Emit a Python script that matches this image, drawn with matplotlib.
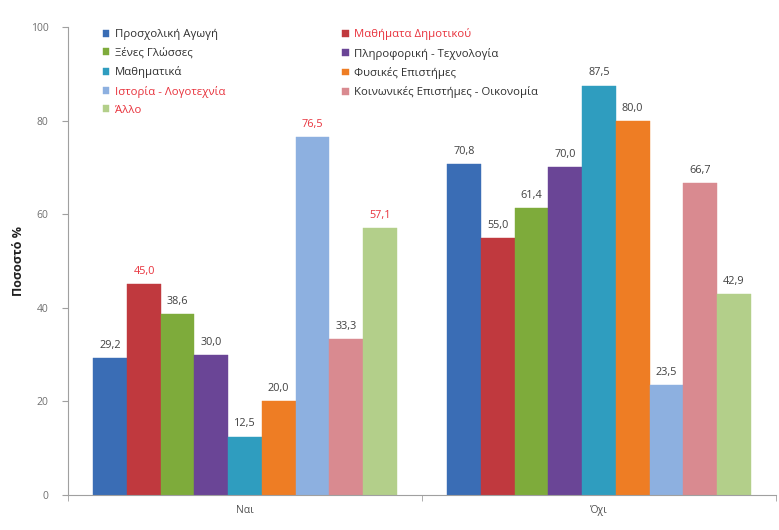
import matplotlib
matplotlib.use("Agg")
import matplotlib.pyplot as plt
import numpy as np

plt.rcParams['font.family'] = ['Open Sans', 'DejaVu Sans']

groups = ["Ναι", "Όχι"]
series = [
    "Προσχολική Αγωγή",
    "Μαθήματα Δημοτικού",
    "Ξένες Γλώσσες",
    "Πληροφορική - Τεχνολογία",
    "Μαθηματικά",
    "Φυσικές Επιστήμες",
    "Ιστορία - Λογοτεχνία",
    "Κοινωνικές Επιστήμες - Οικονομία",
    "Άλλο",
]
values_yes = [29.2, 45.0, 38.6, 30.0, 12.5, 20.0, 76.5, 33.3, 57.1]
values_no = [70.8, 55.0, 61.4, 70.0, 87.5, 80.0, 23.5, 66.7, 42.9]
yticks = [0, 20, 40, 60, 80, 100]

colors = ["#3A6DB5", "#C0393E", "#7EAB3B", "#6A4596", "#2F9DBF",
          "#EE7D24", "#8DB0E0", "#D98A90", "#B3CF8A"]
# series whose legend entry (and "Ναι" label) is written in red
red_series = {1, 6, 8}
red = "#E8323C"
grey_text = "#404040"

fig = plt.figure(figsize=(7.79, 5.30), dpi=100)
ax = fig.add_axes([68 / 779, 35 / 530, 708 / 779, 468 / 530])

n = len(series)
group_w = 0.856
bw = group_w / n
x = np.arange(len(groups))
handles = []
for i in range(n):
    vals = [values_yes[i], values_no[i]]
    pos = x - group_w / 2 + bw * (i + 0.5)
    bars = ax.bar(pos, vals, width=bw, color=colors[i], edgecolor=colors[i],
                  linewidth=0.3, label=series[i])
    handles.append(bars)
    for g, (p, v) in enumerate(zip(pos, vals)):
        c = red if (g == 0 and i in red_series) else grey_text
        ax.text(p, v + 1.5, f"{v:.1f}".replace(".", ","), ha="center",
                va="bottom", fontsize=7.8, color=c)

ax.set_xlim(-0.5, 1.5)
ax.set_ylim(0, 100)
ax.set_yticks(yticks)
ax.set_yticklabels([str(t) for t in yticks], fontsize=7.5, color="#707070")
ax.set_xticks(x)
ax.set_xticklabels(groups, fontsize=7.5, color="#505050")
ax.set_xticks([-0.5, 0.5, 1.5], minor=True)
ax.tick_params(axis="x", which="major", length=0, pad=7)
ax.tick_params(axis="x", which="minor", length=4, color="#A0A0A0", direction="out")
ax.tick_params(axis="y", length=4, color="#A0A0A0", direction="out", pad=10)
for s in ["top", "right"]:
    ax.spines[s].set_visible(False)
for s in ["left", "bottom"]:
    ax.spines[s].set_color("#A0A0A0")
    ax.spines[s].set_linewidth(0.8)

ax.set_ylabel("Ποσοστό %", fontsize=9, fontweight="bold", color="#202020",
              labelpad=4)

# legend: five rows, two columns, filled row by row
order = [0, 2, 4, 6, 8, 1, 3, 5, 7]
leg = ax.legend([handles[k] for k in order], [series[k] for k in order],
                ncol=2, frameon=False, fontsize=8.2, loc="upper left",
                bbox_to_anchor=(0.049, 0.997), borderpad=0, borderaxespad=0,
                handlelength=0.55, handleheight=0.55, handletextpad=0.5,
                columnspacing=10.3, labelspacing=0.64)
for txt, k in zip(leg.get_texts(), order):
    txt.set_color(red if k in red_series else "#303030")

fig.savefig("out.png", dpi=100, facecolor="white")
